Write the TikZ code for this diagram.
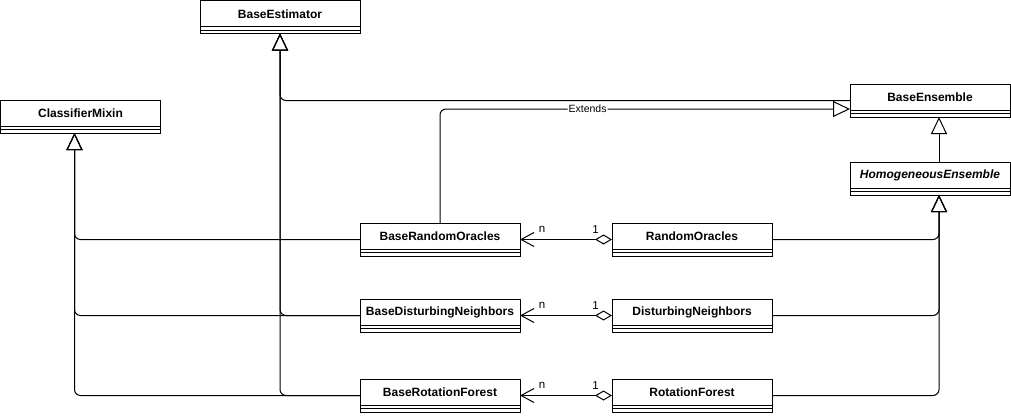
\documentclass[tikz,border=0pt]{standalone}
\usepackage{fontspec}
\setmainfont{Liberation Sans}
\usetikzlibrary{arrows.meta}
\tikzset{
  clsbox/.style={draw, line width=1pt, minimum width=160pt, minimum height=33pt, inner sep=0pt, outer sep=0pt, anchor=north west},
  clstext/.style={inner sep=0pt, font=\fontsize{12}{14}\selectfont\bfseries},
  conn/.style={line width=1pt, rounded corners=6pt},
  gen/.style={conn, {Triangle[open, length=17pt, width=16pt]}-},
  genend/.style={conn, -{Triangle[open, length=17pt, width=16pt]}},
  agg/.style={conn, {Straight Barb[length=13pt, width=14pt]}-{Diamond[open, length=17pt, width=10pt]}},
  lbl/.style={inner sep=1pt, font=\fontsize{10.5}{12}\selectfont},
  mult/.style={inner sep=1pt, font=\fontsize{11.5}{13}\selectfont},
}
\newcommand{\umlbox}[5][]{%
  \node[clsbox] (#2) at (#3,#4) {};
  \node[clstext,#1] (#2-t) at ([yshift=-13.5pt]#2.north) {#5};
  \draw[line width=1pt] ([yshift=-26pt]#2.north west) -- ([yshift=-26pt]#2.north east)
    ([yshift=-29.5pt]#2.north west) -- ([yshift=-29.5pt]#2.north east);
}
\begin{document}
\begin{tikzpicture}[x=1pt, y=-1pt]
\useasboundingbox (0,0) rectangle (1011,415);
\umlbox{be}{200}{0.5}{BaseEstimator}
\umlbox{cm}{0.5}{100}{ClassifierMixin}
\umlbox{bens}{850}{84}{BaseEnsemble}
\umlbox[font=\fontsize{12}{14}\selectfont\bfseries\itshape]{he}{850}{162}{HomogeneousEnsemble}
\umlbox{bro}{360}{223}{BaseRandomOracles}
\umlbox{ro}{612}{223}{RandomOracles}
\umlbox{bdn}{360}{299}{BaseDisturbingNeighbors}
\umlbox{dn}{612}{299}{DisturbingNeighbors}
\umlbox{brf}{360}{379}{BaseRotationForest}
\umlbox{rf}{612}{379}{RotationForest}

% BaseEstimator generalizations
\draw[gen] (be.south) |- (bens.west);
\draw[gen] (be.south) |- (bdn.west);
\draw[gen] (be.south) |- (brf.west);
% ClassifierMixin generalizations
\draw[gen] ([xshift=-6pt]cm.south) |- (bro.west);
\draw[gen] ([xshift=-6pt]cm.south) |- (bdn.west);
\draw[gen] ([xshift=-6pt]cm.south) |- (brf.west);
% Extends
\draw[genend] (bro.north) |- ([yshift=-8.5pt]bens.west)
  node[lbl, fill=white, pos=0.68] (ext) {Extends};
% BaseEnsemble <- HomogeneousEnsemble
\draw[gen] ([xshift=9pt]bens.south) -- ([xshift=9pt]he.north);
% HomogeneousEnsemble generalizations
\draw[gen] ([xshift=9pt]he.south) |- (ro.east);
\draw[gen] ([xshift=9pt]he.south) |- (dn.east);
\draw[gen] ([xshift=9pt]he.south) |- (rf.east);
% aggregations
\draw[agg] (bro.east) -- (ro.west)
  node[mult, pos=0.24, yshift=10pt] (n1) {n}
  node[mult, pos=0.82, yshift=10pt] (o1) {1};
\draw[agg] (bdn.east) -- (dn.west)
  node[mult, pos=0.24, yshift=10pt] (n2) {n}
  node[mult, pos=0.82, yshift=10pt] (o2) {1};
\draw[agg] (brf.east) -- (rf.west)
  node[mult, pos=0.24, yshift=10pt] (n3) {n}
  node[mult, pos=0.82, yshift=10pt] (o3) {1};
\end{tikzpicture}
\end{document}
